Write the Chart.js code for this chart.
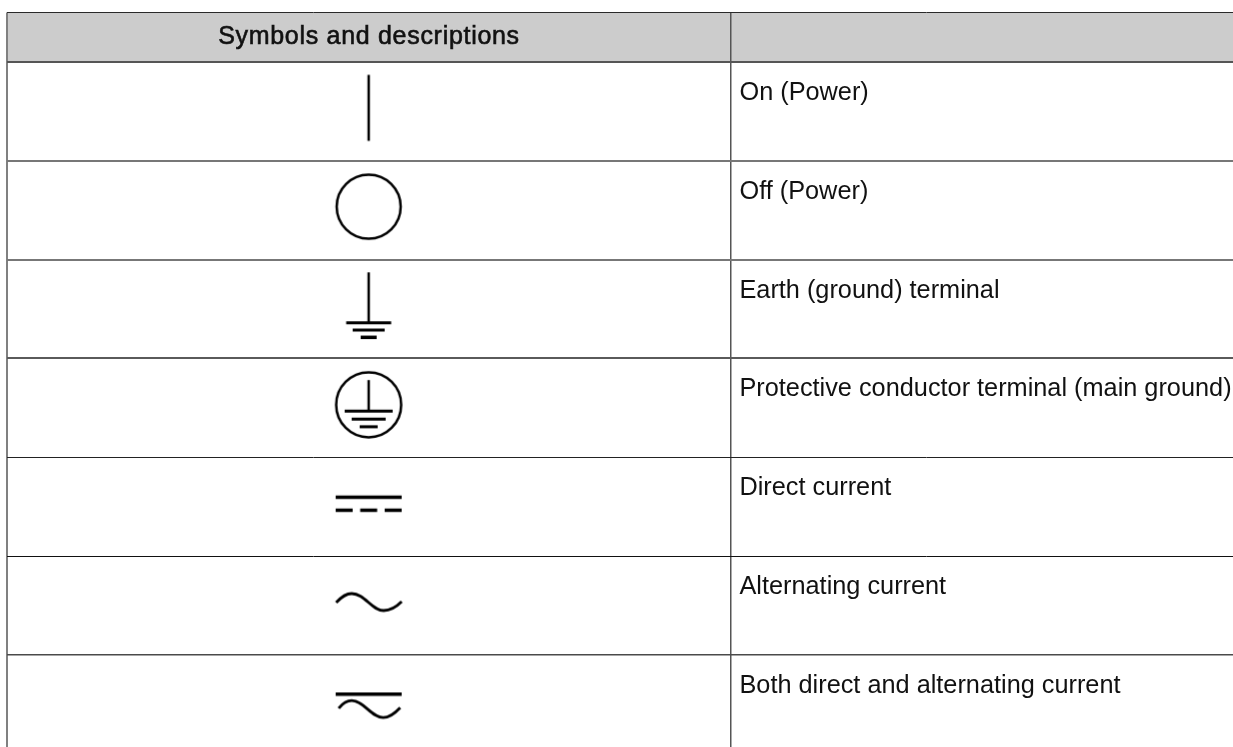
<!DOCTYPE html>
<html lang="en">

<head>
    <meta charset="UTF-8">
    <title>Symbols and descriptions</title>
    <script src="https://cdn.jsdelivr.net/npm/chart.js"></script>
    <style>
        body { margin: 0; background: #fff; }
        canvas { display: block; }
    </style>
</head>

<body>
    <canvas id="tabela" width="1233" height="747"></canvas>

    <script>
        const headerLabels = ['Symbols and descriptions', ''];
        const symbolNames = ['on', 'off', 'earth', 'protective', 'dc', 'ac', 'both'];
        const descriptions = [
            'On (Power)',
            'Off (Power)',
            'Earth (ground) terminal',
            'Protective conductor terminal (main ground)',
            'Direct current',
            'Alternating current',
            'Both direct and alternating current'
        ];
        const rowEdges = [-0.5, 0, 1, 2, 3, 4, 5, 6];
        const columnEdges = [0, 0.5905];
        const rowCentres = [0.5, 1.5, 2.5, 3.5, 4.5, 5.5, 6.5];
        const symbolColumn = 0.295;

        // the scan of the table has uneven rules, one entry per edge
        const rowLineColours = ['#2a2a2a', '#555555', '#777777', '#777777', '#5a5a5a', '#222222', '#111111', '#4a4a4a'];
        const rowLineWidths = [1, 2, 2, 2, 2, 1, 1, 1.5];
        const columnLineColours = ['#808080', '#555555'];
        const columnLineWidths = [2, 1.5];

        function line(c, x1, y1, x2, y2, w) {
            c.lineWidth = w;
            c.beginPath();
            c.moveTo(x1, y1);
            c.lineTo(x2, y2);
            c.stroke();
        }

        // each symbol is a small canvas, used as the point's image, origin at row centre
        const painters = {
            on(c) {
                line(c, 0, -36.5, 0, 29.5, 2.5);
            },
            off(c) {
                c.lineWidth = 2.5;
                c.beginPath();
                c.arc(0, -3.5, 32, 0, Math.PI * 2);
                c.stroke();
            },
            earth(c) {
                line(c, 0, -36.7, 0, 13.7, 2.5);
                line(c, -22.5, 13.7, 22.5, 13.7, 3);
                line(c, -16, 21, 16, 21, 3);
                line(c, -8, 28.3, 8, 28.3, 3.5);
            },
            protective(c) {
                c.lineWidth = 2.5;
                c.beginPath();
                c.arc(0, -3.1, 32.5, 0, Math.PI * 2);
                c.stroke();
                line(c, 0, -27.8, 0, 3.2, 2.5);
                line(c, -24, 3.2, 24, 3.2, 3);
                line(c, -17, 11.2, 17, 11.2, 3);
                line(c, -9, 18.9, 9, 18.9, 3);
            },
            dc(c) {
                line(c, -33, -9.5, 33, -9.5, 3.5);
                line(c, -33, 3.5, -16, 3.5, 3.5);
                line(c, -8.5, 3.5, 8.5, 3.5, 3.5);
                line(c, 16, 3.5, 33, 3.5, 3.5);
            },
            ac(c) {
                c.lineWidth = 2.8;
                c.beginPath();
                c.moveTo(-32.5, -3);
                c.bezierCurveTo(-27, -9, -22, -12, -17, -12);
                c.bezierCurveTo(-4, -12, 3, 5, 15, 5);
                c.bezierCurveTo(22, 5, 28, 1, 33, -4);
                c.stroke();
            },
            both(c) {
                line(c, -33, -10.2, 33, -10.2, 3.5);
                c.lineWidth = 2.8;
                c.beginPath();
                c.moveTo(-30, 3.8);
                c.bezierCurveTo(-26, -1, -21, -3.8, -17, -3.8);
                c.bezierCurveTo(-5, -3.8, 3, 13.2, 14.5, 13.2);
                c.bezierCurveTo(21, 13.2, 27, 8, 31.5, 3.2);
                c.stroke();
            }
        };

        function symbolImage(name) {
            const img = document.createElement('canvas');
            img.width = 100;
            img.height = 100;
            const c = img.getContext('2d');
            c.translate(50, 50);
            c.strokeStyle = '#000';
            painters[name](c);
            return img;
        }

        const tablePlugin = {
            id: 'tablePlugin',
            beforeDraw(chart) {
                const { ctx, scales: { x, y } } = chart;
                ctx.save();
                ctx.fillStyle = '#cccccc';
                ctx.fillRect(x.left, y.getPixelForValue(rowEdges[0]), x.width, y.getPixelForValue(rowEdges[1]) - y.getPixelForValue(rowEdges[0]));
                ctx.restore();
            },
            afterDatasetsDraw(chart) {
                const { ctx, scales: { x, y } } = chart;
                ctx.save();
                ctx.fillStyle = '#111';
                ctx.strokeStyle = '#111';
                ctx.textBaseline = 'alphabetic';

                // header is a medium weight in the source, regular plus a thin outline is closest
                const hx = x.getPixelForValue(columnEdges[1] / 2);
                const hy = y.getPixelForValue(rowEdges[0]) + 31;
                ctx.font = '25px "Liberation Sans"';
                ctx.letterSpacing = '0.7px';
                ctx.textAlign = 'center';
                ctx.lineWidth = 0.6;
                ctx.fillText(headerLabels[0], hx, hy);
                ctx.strokeText(headerLabels[0], hx, hy);
                ctx.letterSpacing = '0px';

                ctx.font = '25.3px "Liberation Sans"';
                ctx.textAlign = 'left';
                descriptions.forEach((text, i) => {
                    ctx.fillText(text, x.getPixelForValue(columnEdges[1]) + 8.5, y.getPixelForValue(rowEdges[i + 1]) + 38);
                });
                ctx.restore();
            }
        };

        new Chart(document.getElementById('tabela'), {
            type: 'scatter',
            data: {
                datasets: [{
                    data: rowCentres.map(r => ({ x: symbolColumn, y: r })),
                    pointStyle: symbolNames.map(symbolImage),
                    showLine: false
                }]
            },
            options: {
                responsive: false,
                animation: false,
                layout: { autoPadding: false, padding: { left: 7, top: 12.5, right: 0, bottom: 0 } },
                plugins: {
                    legend: { display: false },
                    tooltip: { enabled: false }
                },
                scales: {
                    x: {
                        type: 'linear',
                        min: 0,
                        max: 1,
                        afterBuildTicks(axis) { axis.ticks = columnEdges.map(v => ({ value: v })); },
                        ticks: { display: false },
                        border: { display: false },
                        grid: {
                            color: c => columnLineColours[c.index],
                            lineWidth: c => columnLineWidths[c.index],
                            drawTicks: false
                        }
                    },
                    y: {
                        type: 'linear',
                        reverse: true,
                        min: -0.5,
                        max: 6.931,
                        afterBuildTicks(axis) { axis.ticks = rowEdges.map(v => ({ value: v })); },
                        ticks: { display: false },
                        border: { display: false },
                        grid: {
                            color: c => rowLineColours[c.index],
                            lineWidth: c => rowLineWidths[c.index],
                            drawTicks: false
                        }
                    }
                }
            },
            plugins: [tablePlugin]
        });
    </script>
</body>

</html>
